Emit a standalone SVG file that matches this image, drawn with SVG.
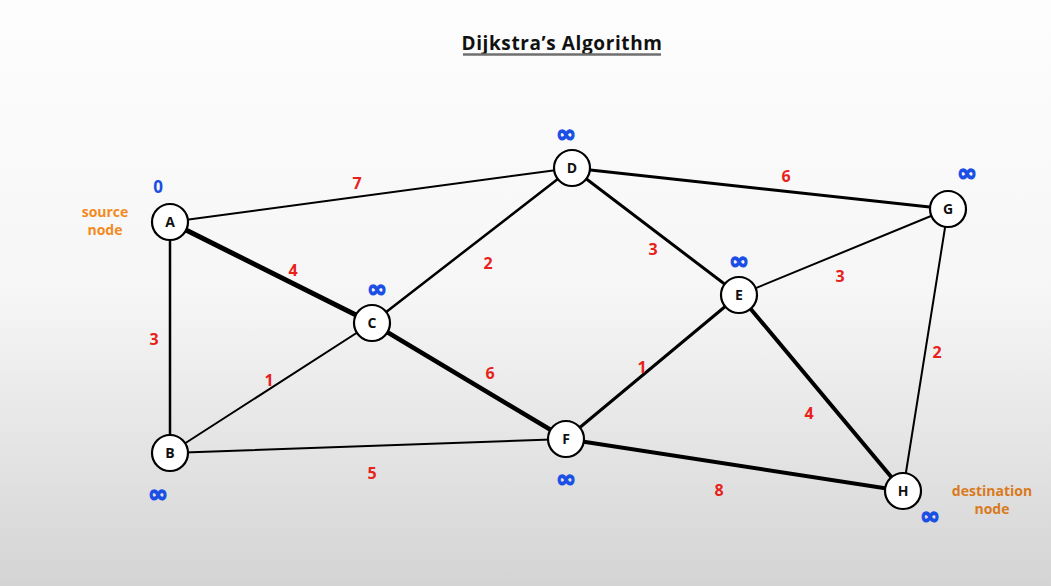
<svg xmlns="http://www.w3.org/2000/svg" width="1051" height="586" viewBox="0 0 1051 586">
<defs>
<linearGradient id="bg" x1="0" y1="0" x2="0" y2="1">
<stop offset="0" stop-color="#fdfdfd"/>
<stop offset="0.5" stop-color="#f6f6f6"/>
<stop offset="1" stop-color="#d4d4d4"/>
</linearGradient>
<style>
.n circle{fill:#ffffff;stroke:#000;stroke-width:2.2}
.n text{font-family:"Open Sans","DejaVu Sans",sans-serif;font-weight:bold;font-size:14px;text-anchor:middle;fill:#111}
.e line{stroke:#000;stroke-linecap:round}
.w{font-family:"Open Sans","DejaVu Sans",sans-serif;font-weight:bold;font-size:16px;fill:#e8221b;text-anchor:middle}
.d{font-family:"DejaVu Sans",sans-serif;font-weight:bold;font-size:24px;fill:#1a4fe6;stroke:#1a4fe6;stroke-width:1.3;text-anchor:middle}
.z{font-family:"Open Sans","DejaVu Sans",sans-serif;font-weight:bold;font-size:17px;fill:#1a4fe6;text-anchor:middle}
.lab{font-family:"Open Sans","DejaVu Sans",sans-serif;font-weight:bold;font-size:14px;text-anchor:middle}
</style>
</defs>
<rect width="1051" height="586" fill="url(#bg)"/>
<g id="title">
<text x="562" y="50" font-family="'Open Sans','DejaVu Sans',sans-serif" font-weight="bold" font-size="19" text-anchor="middle" fill="#111" letter-spacing="0.6">Dijkstra’s Algorithm</text>
<line x1="463" y1="54.5" x2="661" y2="54.5" stroke="#6f6f6f" stroke-width="2.4"/>
</g>
<g id="edges" class="e">
<line x1="170" y1="222" x2="572" y2="168" stroke-width="2"/>
<line x1="170" y1="222" x2="372" y2="323" stroke-width="5"/>
<line x1="170" y1="222" x2="170" y2="453" stroke-width="2.5"/>
<line x1="372" y1="323" x2="572" y2="168" stroke-width="2.5"/>
<line x1="372" y1="323" x2="170" y2="453" stroke-width="2"/>
<line x1="372" y1="323" x2="566" y2="439" stroke-width="4.5"/>
<line x1="170" y1="453" x2="566" y2="439" stroke-width="2"/>
<line x1="572" y1="168" x2="948" y2="209" stroke-width="3"/>
<line x1="572" y1="168" x2="739" y2="295" stroke-width="3"/>
<line x1="739" y1="295" x2="948" y2="209" stroke-width="2"/>
<line x1="739" y1="295" x2="566" y2="439" stroke-width="3"/>
<line x1="739" y1="295" x2="903" y2="491" stroke-width="4"/>
<line x1="948" y1="209" x2="903" y2="491" stroke-width="2"/>
<line x1="566" y1="439" x2="903" y2="491" stroke-width="4"/>
</g>
<g id="weights">
<text class="w" x="357" y="189">7</text>
<text class="w" x="293" y="276">4</text>
<text class="w" x="154" y="345">3</text>
<text class="w" x="488" y="269">2</text>
<text class="w" x="269" y="386">1</text>
<text class="w" x="490" y="379">6</text>
<text class="w" x="372" y="479">5</text>
<text class="w" x="786" y="182">6</text>
<text class="w" x="653" y="255">3</text>
<text class="w" x="840" y="282">3</text>
<text class="w" x="642" y="373">1</text>
<text class="w" x="809" y="419">4</text>
<text class="w" x="937" y="358">2</text>
<text class="w" x="719" y="496">8</text>
</g>
<g id="nA" class="n"><circle cx="170" cy="222" r="18"/><text x="170" y="227">A</text></g>
<g id="nB" class="n"><circle cx="170" cy="453" r="18"/><text x="170" y="458">B</text></g>
<g id="nC" class="n"><circle cx="372" cy="323" r="18"/><text x="372" y="328">C</text></g>
<g id="nD" class="n"><circle cx="572" cy="168" r="18"/><text x="572" y="173">D</text></g>
<g id="nE" class="n"><circle cx="739" cy="295" r="18"/><text x="739" y="300">E</text></g>
<g id="nF" class="n"><circle cx="566" cy="439" r="18"/><text x="566" y="444">F</text></g>
<g id="nG" class="n"><circle cx="948" cy="209" r="18"/><text x="948" y="214">G</text></g>
<g id="nH" class="n"><circle cx="903" cy="491" r="18"/><text x="903" y="496">H</text></g>
<g id="distances">
<text class="d" x="566" y="142">∞</text>
<text class="d" x="377" y="297">∞</text>
<text class="d" x="739" y="269">∞</text>
<text class="d" x="967" y="181">∞</text>
<text class="d" x="158" y="502">∞</text>
<text class="d" x="566" y="487">∞</text>
<text class="d" x="930" y="524">∞</text>
<text class="z" x="158" y="193">0</text>
</g>
<g id="source-label" class="lab" fill="#f28a22">
<text x="105" y="217">source</text>
<text x="105" y="235">node</text>
</g>
<g id="dest-label" class="lab" fill="#d97a1c">
<text x="992" y="496">destination</text>
<text x="992" y="514">node</text>
</g>
</svg>
